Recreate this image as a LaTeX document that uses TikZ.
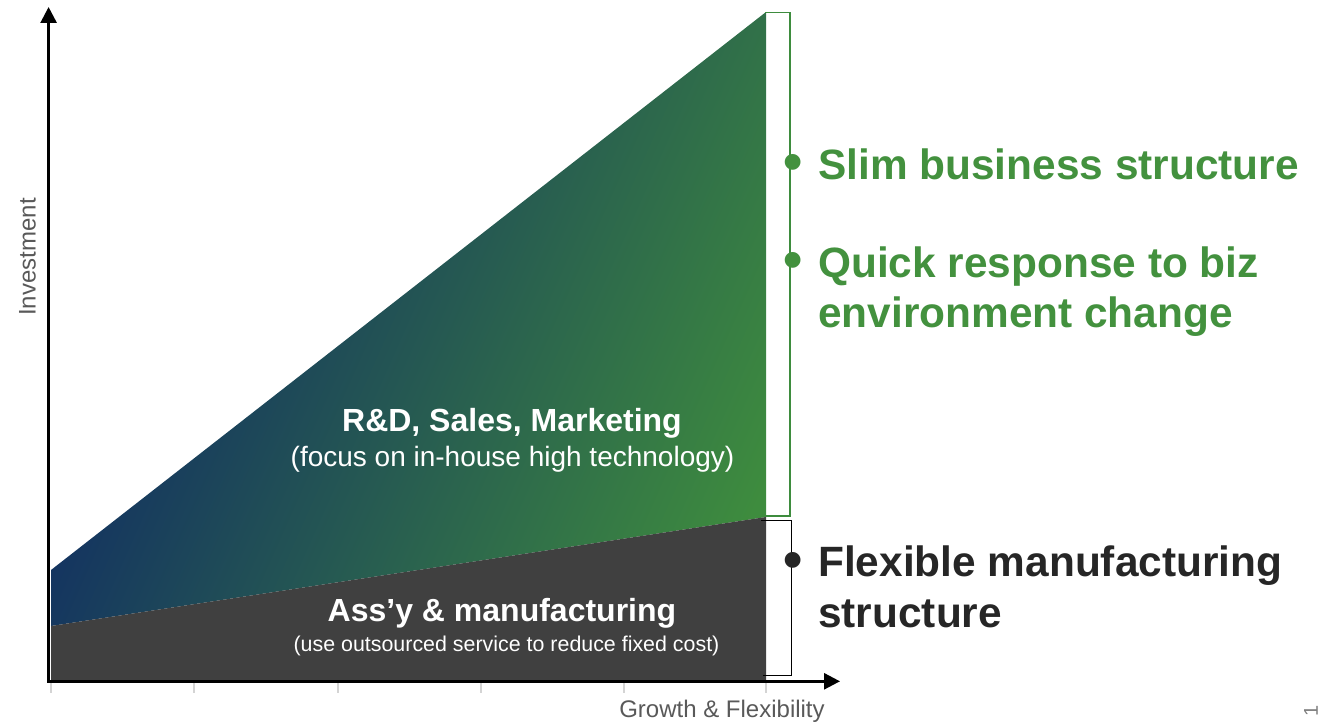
\documentclass[tikz,border=0pt]{standalone}
\usepackage{fontspec}
\setmainfont{Liberation Sans}
\usetikzlibrary{arrows.meta}
\definecolor{navy}{RGB}{18,48,98}
\definecolor{leaf}{RGB}{62,140,62}
\definecolor{txtgreen}{RGB}{67,145,62}
\definecolor{darkfill}{RGB}{64,64,64}
\definecolor{darktext}{RGB}{38,38,38}
\definecolor{axisgray}{RGB}{89,89,89}
\definecolor{tickgray}{RGB}{212,212,212}
\definecolor{pagegray}{RGB}{128,128,128}
\pgfdeclarehorizontalshading{navyleaf}{100bp}{color(0bp)=(navy); color(31bp)=(navy); color(79bp)=(leaf); color(100bp)=(leaf)}
\begin{document}
\begin{tikzpicture}[x=1pt,y=-1pt,
  axisline/.style={line width=2.7pt,-{Triangle[length=16pt,width=16pt]}},
  tickline/.style={draw=tickgray,line width=2pt},
  greenbr/.style={draw=leaf,line width=1.5pt},
  blackbr/.style={draw=black,line width=1.5pt},
  bigtxt/.style={font=\fontsize{42.4}{50}\selectfont\bfseries,anchor=base west,inner sep=0pt},
  bultxt/.style={font=\fontsize{55}{60}\selectfont\bfseries,anchor=base west,inner sep=0pt},
  inbold/.style={font=\fontsize{32}{38}\selectfont\bfseries,text=white,anchor=base,inner sep=0pt},
  insub/.style={text=white,anchor=base,inner sep=0pt},
  axlabel/.style={font=\fontsize{24}{28}\selectfont,text=axisgray,inner sep=0pt}
]
\useasboundingbox (0,0) rectangle (1332,722);

% areas
\shade[shading=navyleaf,shading angle=-24]
  (51,570) -- (766,12) -- (766,517) -- (51,626) -- cycle;
\fill[darkfill] (51,626) -- (766,517) -- (766,681) -- (51,681) -- cycle;

% ticks
\foreach \tx in {51,194,338,481,624,766}
  \draw[tickline] (\tx,683) -- (\tx,693);

% axes
\coordinate (yorig) at (48.6,682.6);
\coordinate (ytip) at (48.6,7);
\coordinate (xorig) at (47.3,681.3);
\coordinate (xtip) at (840,681.3);
\draw[axisline] (yorig) -- (ytip);
\draw[axisline] (xorig) -- (xtip);

% brackets
\coordinate (g1) at (765,12.5);
\coordinate (g2) at (790,12.5);
\coordinate (g3) at (790,516);
\coordinate (g4) at (765,516);
\draw[greenbr] (g1) -- (g2) -- (g3) -- (g4);
\coordinate (b1) at (761,520.5);
\coordinate (b2) at (791.5,520.5);
\coordinate (b3) at (791.5,675.5);
\coordinate (b4) at (763,675.5);
\draw[blackbr] (b1) -- (b2) -- (b3) -- (b4);

% right bullets
\node[bultxt,text=txtgreen] (bul1) at (783.4,181) {•};
\node[bigtxt,text=txtgreen] (t1) at (818,180) {Slim business structure};
\node[bultxt,text=txtgreen] (bul2) at (783.4,278) {•};
\node[bigtxt,text=txtgreen] (t2a) at (818,277) {Quick response to biz};
\node[bigtxt,text=txtgreen] (t2b) at (818,327) {environment change};
\node[bultxt,text=darktext] (bul3) at (783.4,578) {•};
\node[bigtxt,text=darktext] (t3a) at (818,576) {Flexible manufacturing};
\node[bigtxt,text=darktext] (t3b) at (818,627) {structure};

% inner labels
\node[inbold] (rd) at (512,431.5) {R\&D, Sales, Marketing};
\node[insub,font=\fontsize{28}{32}\selectfont] (rdsub) at (512.5,466.5) {(focus on in-house high technology)};
\node[inbold] (asm) at (502,621.5) {Ass’y \& manufacturing};
\node[insub,font=\fontsize{21.4}{25}\selectfont] (asmsub) at (506.5,651.5) {(use outsourced service to reduce fixed cost)};

% axis labels
\node[axlabel,rotate=90] (ylab) at (27.5,257) {Investment};
\node[axlabel,anchor=base] (xlab) at (722,717) {Growth \& Flexibility};
\node[font=\fontsize{20}{24}\selectfont,text=pagegray,rotate=90,inner sep=0pt] (pg) at (1311,711) {1};
\end{tikzpicture}
\end{document}
